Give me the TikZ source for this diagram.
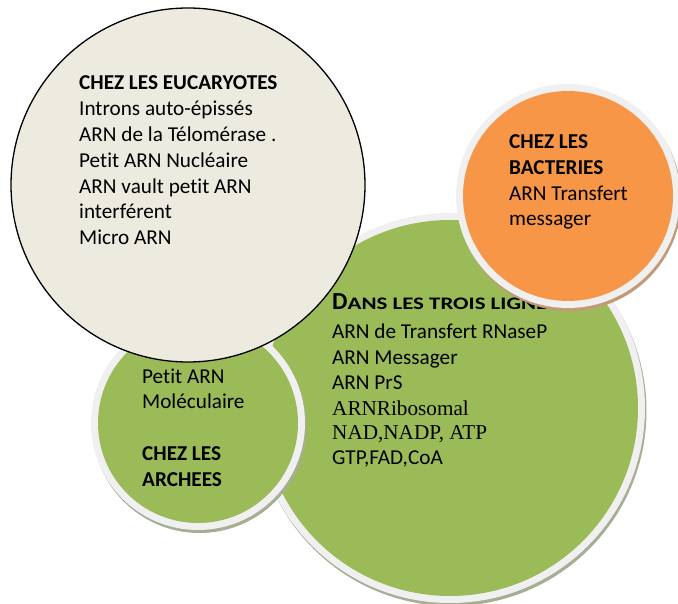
\documentclass[tikz,border=0pt]{standalone}
\usepackage{fontspec}
\setmainfont{Carlito}[Ligatures={NoCommon}]
\newfontfamily\timesf{Liberation Serif}
\definecolor{beige}{HTML}{EDEBE0}
\definecolor{olive}{HTML}{9BBB59}
\definecolor{orng}{HTML}{F79646}
\definecolor{ringc}{HTML}{F0F0F0}
\definecolor{gshadow}{HTML}{A6AE96}
\definecolor{oshadow}{HTML}{C39A78}
\tikzset{
  disc/.style={circle, inner sep=0pt, outer sep=0pt},
  txt/.style={anchor=base west, inner sep=0pt, font=\fontsize{21.2}{25.8}\selectfont},
  hd/.style={txt, font=\fontsize{21.2}{25.8}\selectfont\bfseries}
}
\begin{document}
\begin{tikzpicture}[x=1pt,y=-1pt]
\useasboundingbox (0,0) rectangle (678,604);
\clip (0,0) rectangle (678,604);

% big green circle
\fill[gshadow] (451.5,411) circle[radius=195];
\fill[ringc] (450,408) circle[radius=195];
\node[disc, fill=olive, minimum size=376pt] (trois) at (450,408) {};
\node[txt] (t0) at (332,309) {\bfseries{\fontsize{24.5}{25}\selectfont D}\scalebox{1.3}[1]{\fontsize{17.6}{25}\selectfont ANS LES TROIS LIGNÉES}};
\node[txt] (t1) at (332,338) {ARN de Transfert RNaseP};
\node[txt] (t2) at (332,364) {ARN Messager};
\node[txt] (t3) at (332,389) {ARN PrS};
\node[txt] (t4) at (332,415.5) {\timesf ARNRibosomal};
\node[txt] (t5) at (332,439.5) {\timesf NAD,NADP, ATP};
\node[txt] (t6) at (332,464) {GTP,FAD,CoA};

% small green circle
\fill[gshadow] (199.5,426) circle[radius=107];
\fill[ringc] (198,423) circle[radius=107];
\node[disc, fill=olive, minimum size=200pt] (archees) at (198,423) {};
\node[txt] (a1) at (142,383) {Petit ARN};
\node[txt] (a2) at (142,408.9) {Moléculaire};
\node[hd] (a3) at (142,460.7) {CHEZ LES};
\node[hd] (a4) at (142,486.6) {ARCHEES};

% orange circle
\fill[oshadow] (569.5,199) circle[radius=112];
\fill[ringc] (568,196) circle[radius=112];
\node[disc, fill=orng, minimum size=210pt] (bact) at (568,196) {};
\node[hd] (b1) at (509,149) {CHEZ LES};
\node[hd] (b2) at (509,175) {BACTERIES};
\node[txt] (b3) at (509,200.5) {ARN Transfert};
\node[txt] (b4) at (509,226) {messager};

% eucaryotes circle
\node[disc, fill=beige, draw=black, line width=1.3pt, minimum size=354pt] (euc) at (188,185) {};
\node[hd] (e1) at (79,89.3) {CHEZ LES EUCARYOTES};
\node[txt] (e2) at (79,115.3) {Introns auto-épissés};
\node[txt] (e3) at (79,141.2) {ARN de la Télomérase .};
\node[txt] (e4) at (79,167.2) {Petit ARN Nucléaire};
\node[txt] (e5) at (79,193.1) {ARN vault petit ARN};
\node[txt] (e6) at (79,219) {interférent};
\node[txt] (e7) at (79,245) {Micro ARN};
\end{tikzpicture}
\end{document}
